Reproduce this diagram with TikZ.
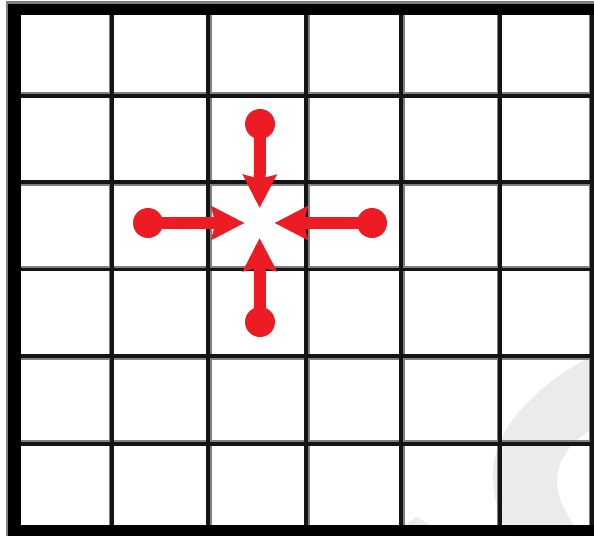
\documentclass[tikz,border=0pt]{standalone}
\usetikzlibrary{arrows.meta}
\definecolor{arrowred}{HTML}{ED1C24}
\definecolor{wmgray}{HTML}{EBEBEB}
\begin{document}
\begin{tikzpicture}[x=1pt,y=-1pt,
  gridline/.style={line width=3.5pt, black!92},
  gridshade/.style={line width=3pt, black!50},
  border/.style={fill=black},
  dot/.style={circle, fill=arrowred, inner sep=0pt, minimum size=30pt},
  pusharrow/.style={draw=arrowred, line width=12pt, -{Stealth[length=33pt,width=33pt,inset=4pt,fill=arrowred]}, shorten >=15pt}]
\useasboundingbox (0,0) rectangle (594,536);
\fill[white] (0,0) rectangle (594,536);
% watermark
\fill[wmgray] (594,355) .. controls (535,385) and (493,430) .. (493,473)
  .. controls (493,500) and (500,520) .. (508,536) -- (582,536)
  .. controls (566,515) and (557,500) .. (557,480)
  .. controls (557,460) and (572,440) .. (594,428) -- cycle;
\fill[wmgray] (404,525) -- (417,517) -- (430,525) -- cycle;
% grid shading
\foreach \x in {110,210,308,403,498,590}
  \draw[gridshade] (\x,15) -- (\x,525);
\foreach \y in {93,184.5,267,358.5,441.5}
  \draw[gridshade] (21,\y) -- (594,\y);
% grid lines
\foreach \x in {112,208,306,401,500,592}
  \draw[gridline] (\x,15) -- (\x,525);
\foreach \y in {96,182,269.5,356,444}
  \draw[gridline] (21,\y) -- (594,\y);
% border
\fill[black!50] (6,1) rectangle (594,4);
\fill[black!50] (6,1) rectangle (8,536);
\fill[border] (8,4) rectangle (594,15);
\fill[border] (8,4) rectangle (21,536);
\fill[border] (8,525) rectangle (594,536);
% arrows
\coordinate (c) at (259.5,223);
\node[dot] (dt) at (260,124) {};
\node[dot] (db) at (260,322) {};
\node[dot] (dl) at (148,223) {};
\node[dot] (dr) at (372,223) {};
\draw[pusharrow] (dt.center) -- (c);
\draw[pusharrow] (db.center) -- (c);
\draw[pusharrow] (dl.center) -- (c);
\draw[pusharrow] (dr.center) -- (c);
\end{tikzpicture}
\end{document}
